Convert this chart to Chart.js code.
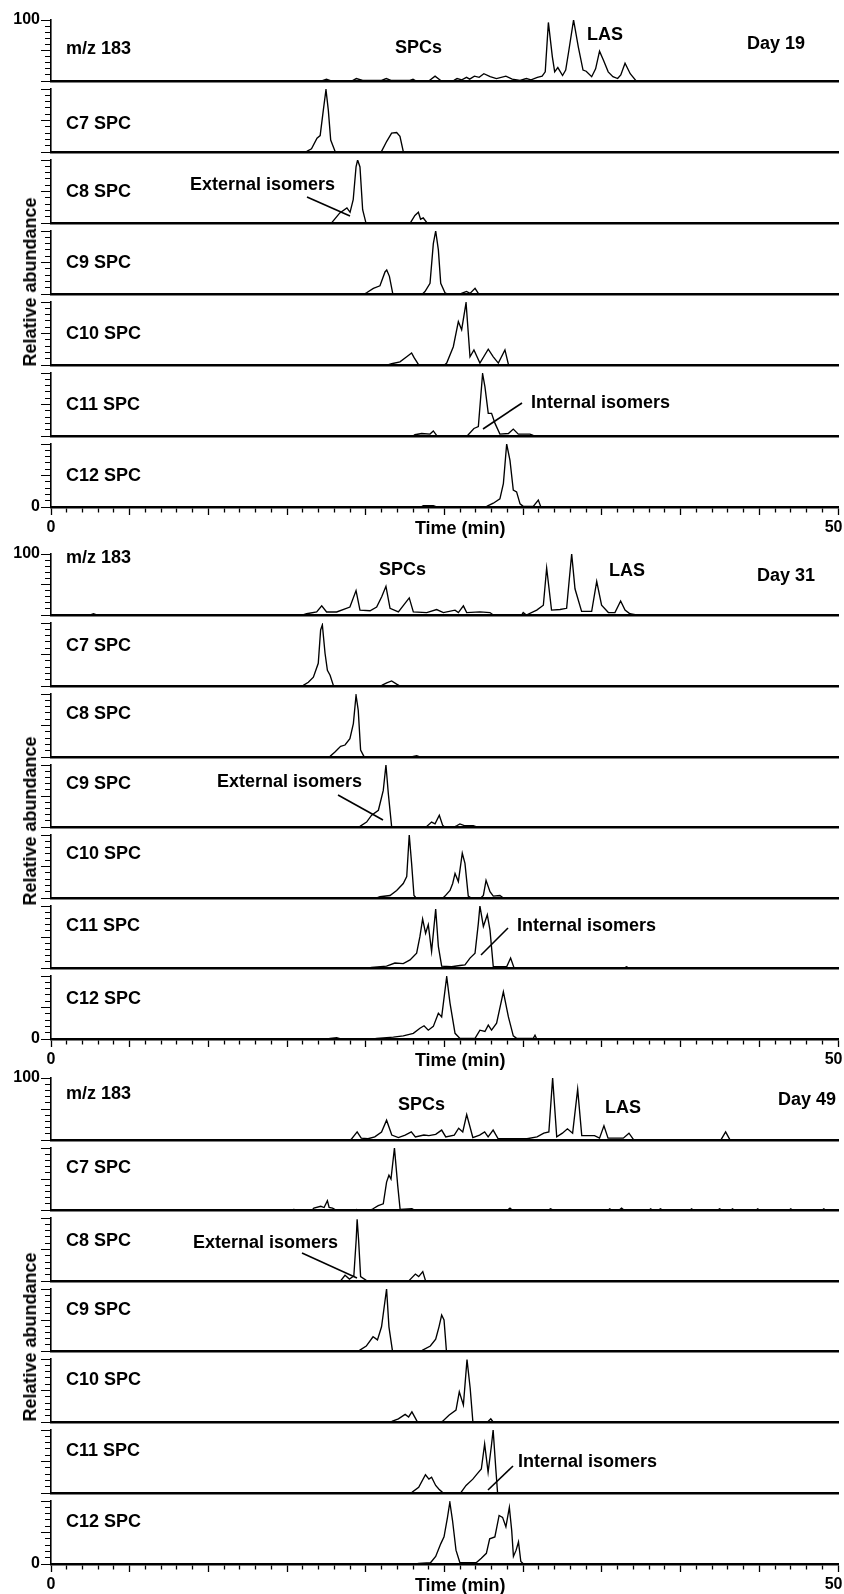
<!DOCTYPE html>
<html><head><meta charset="utf-8">
<script src="https://cdn.jsdelivr.net/npm/chart.js@4/dist/chart.umd.min.js"></script>
<style>
html,body{margin:0;padding:0;background:#fff;}
#wrap{position:relative;width:844px;height:1594px;overflow:hidden;background:#fff;}
#wrap canvas{position:absolute;left:0;}
.lbl{position:absolute;font:bold 18px "Liberation Sans",Arial,sans-serif;color:#000;white-space:nowrap;line-height:1;transform:translateY(-50%);}
.ylab{position:absolute;font:bold 18px "Liberation Sans",Arial,sans-serif;color:#000;white-space:nowrap;line-height:1;transform:translate(-50%,-50%) rotate(-90deg);}
#lines{position:absolute;left:0;top:0;}
</style></head>
<body><div id="wrap"></div>
<script>
// ---------------- DATA (time in min, relative abundance %) ----------------
const rowNames = ['m/z 183','C7 SPC','C8 SPC','C9 SPC','C10 SPC','C11 SPC','C12 SPC'];
const dayNames = ['Day 19','Day 31','Day 49'];
const xTickLabels = {0:'0', 50:'50', 26:'Time (min)'};
const yTopLabel = '100';
const yBottomLabel = '0';

const day19_mz183 = [[0,0],[17.2,0],[17.5,3],[17.8,0],[19.1,0],[19.4,4],[19.8,1],[21.0,1],[21.3,4],[21.6,1],[22.8,1],[23.0,3],[23.2,0],[24.0,0],[24.4,8],[24.8,0],[25.6,1],[25.8,4],[26.1,2],[26.4,6],[26.6,3],[26.9,8],[27.2,6],[27.5,12],[27.9,7],[28.3,4],[28.9,8],[29.3,3],[29.8,1],[30.2,4],[30.5,2],[30.9,6],[31.2,8],[31.4,15],[31.6,96],[31.85,40],[32.0,15],[32.2,22],[32.5,9],[32.7,18],[32.9,50],[33.2,100],[33.5,56],[33.8,18],[34.0,16],[34.35,7],[34.6,20],[34.85,49],[35.1,34],[35.4,15],[35.7,7],[36.0,4],[36.2,10],[36.47,29],[36.8,12],[37.15,1],[37.3,0],[50,0]];
const day19_c7 = [[0,0],[16.0,0],[16.25,1],[16.55,5],[16.9,22],[17.1,26],[17.3,66],[17.47,99],[17.62,66],[17.77,19],[18.05,1],[18.2,0],[20.8,0],[21.0,1],[21.33,17],[21.64,30],[21.96,31],[22.17,25],[22.38,1],[22.5,0],[50,0]];
const day19_c8 = [[0,0],[17.7,0],[17.85,1],[18.35,16],[18.8,24],[19.0,17],[19.2,37],[19.38,89],[19.48,100],[19.63,89],[19.8,21],[20.0,1],[20.1,0],[22.7,0],[22.85,1],[23.12,12],[23.34,17],[23.48,6],[23.65,8],[23.87,1],[24.0,0],[50,0]];
const day19_c9 = [[0,0],[19.9,0],[20.05,2],[20.48,9],[20.9,13],[21.22,35],[21.33,38],[21.5,28],[21.71,1],[21.9,0],[23.6,0],[23.76,4],[24.08,17],[24.29,80],[24.44,100],[24.61,70],[24.76,17],[25.03,2],[25.2,0],[26.0,0],[26.2,2],[26.4,4],[26.62,1],[26.94,9],[27.15,1],[27.3,0],[50,0]];
const day19_c10 = [[0,0],[21.4,0],[21.64,2],[22.17,5],[22.6,13],[22.91,19],[23.06,12],[23.34,1],[23.5,0],[25.0,0],[25.14,3],[25.56,29],[25.88,69],[26.09,56],[26.37,99],[26.62,13],[26.87,24],[27.25,3],[27.78,25],[28.1,13],[28.42,3],[28.84,24],[29.06,1],[29.2,0],[50,0]];
const day19_c11 = [[0,0],[23.0,0],[23.12,2],[23.55,4],[24.08,3],[24.29,8],[24.5,1],[24.6,0],[26.4,0],[26.51,2],[26.87,12],[27.15,15],[27.42,99],[27.57,78],[27.78,36],[27.99,36],[28.21,20],[28.52,3],[29.06,4],[29.37,11],[29.69,3],[30.43,3],[30.64,1],[30.8,0],[50,0]];
const day19_c12 = [[0,0],[23.5,0],[23.65,2],[24.29,2],[24.5,0],[27.5,0],[27.68,1],[28.1,6],[28.52,13],[28.74,37],[28.95,100],[29.16,74],[29.37,27],[29.58,24],[29.8,5],[30.0,1],[30.64,1],[30.96,11],[31.11,1],[31.3,0],[50,0]];

const day31_mz183 = [[0,0],[2.5,0],[2.7,2],[2.9,0],[16.0,0],[16.24,2],[16.88,5],[17.2,15],[17.51,5],[18.15,5],[18.99,13],[19.38,40],[19.63,8],[20.27,7],[20.69,13],[21.01,30],[21.28,47],[21.54,11],[22.07,5],[22.49,19],[22.76,28],[23.02,5],[23.87,4],[24.5,9],[24.93,4],[25.67,8],[25.88,4],[26.2,15],[26.41,4],[27.25,5],[27.89,4],[28.1,0],[29.9,0],[30.0,4],[30.2,0],[30.86,8],[31.28,16],[31.49,77],[31.8,8],[32.34,9],[32.76,11],[32.93,59],[33.08,100],[33.29,43],[33.71,6],[34.35,6],[34.67,55],[34.98,16],[35.41,4],[35.83,4],[36.19,23],[36.47,8],[36.78,2],[37.2,0],[50,0]];
const day31_c7 = [[0,0],[15.9,0],[16.03,1],[16.35,6],[16.67,14],[16.98,36],[17.13,89],[17.24,97],[17.41,52],[17.56,25],[17.73,17],[17.94,1],[18.1,0],[20.9,0],[21.01,1],[21.33,5],[21.64,8],[21.96,3],[22.17,0],[50,0]];
const day31_c8 = [[0,0],[17.6,0],[17.73,1],[18.04,8],[18.4,17],[18.68,19],[18.99,29],[19.21,53],[19.38,98],[19.52,74],[19.67,11],[19.88,1],[20.0,0],[22.9,0],[23.02,1],[23.23,2],[23.44,0],[50,0]];
const day31_c9 = [[0,0],[19.5,0],[19.63,1],[20.05,8],[20.37,19],[20.8,27],[21.11,59],[21.28,100],[21.43,54],[21.64,1],[21.8,0],[23.7,0],[23.87,1],[24.18,8],[24.4,5],[24.67,19],[24.88,3],[25.0,0],[25.6,0],[25.77,2],[25.98,5],[26.3,2],[26.83,2],[27.04,0],[50,0]];
const day31_c10 = [[0,0],[20.7,0],[20.9,2],[21.54,4],[21.96,12],[22.38,23],[22.6,34],[22.76,100],[22.91,55],[23.06,4],[23.2,0],[24.9,0],[25.03,3],[25.35,12],[25.52,23],[25.67,39],[25.88,26],[26.13,71],[26.3,55],[26.51,3],[26.7,0],[27.3,0],[27.47,4],[27.64,28],[27.89,10],[28.1,3],[28.52,4],[28.74,0],[50,0]];
const day31_c11 = [[0,0],[20.2,0],[20.37,1],[21.32,3],[21.85,8],[22.38,7],[22.81,13],[23.23,24],[23.44,51],[23.61,79],[23.8,56],[23.97,70],[24.18,27],[24.44,95],[24.61,35],[24.82,3],[25.45,2],[25.98,4],[26.3,5],[26.62,16],[26.94,24],[27.15,72],[27.25,100],[27.47,67],[27.72,86],[27.89,61],[28.1,2],[28.95,2],[29.2,16],[29.41,1],[29.6,0],[36.4,0],[36.57,2],[36.7,0],[50,0]];
const day31_c12 = [[0,0],[17.6,0],[17.73,1],[18.15,2],[18.4,0],[20.5,0],[20.69,1],[21.75,3],[22.38,5],[23.02,9],[23.44,17],[23.7,21],[23.97,14],[24.29,20],[24.61,41],[24.82,35],[25.14,99],[25.35,57],[25.67,9],[25.98,1],[26.94,1],[27.25,14],[27.57,12],[27.78,22],[27.99,14],[28.31,25],[28.74,75],[29.06,35],[29.37,5],[29.58,1],[30.64,1],[30.75,6],[30.86,0],[50,0]];

const day49_mz183 = [[0,0],[19.0,0],[19.07,1],[19.45,13],[19.71,3],[20.14,2],[20.57,5],[21.0,13],[21.32,32],[21.65,8],[22.07,4],[22.5,8],[22.89,13],[23.15,5],[23.69,8],[24.01,7],[24.44,9],[24.82,16],[25.08,5],[25.62,8],[25.9,19],[26.16,13],[26.41,41],[26.8,4],[27.23,8],[27.55,13],[27.77,5],[28.09,16],[28.41,2],[30.24,2],[30.88,5],[31.31,11],[31.63,13],[31.87,100],[32.13,5],[32.49,11],[32.81,18],[33.14,11],[33.46,82],[33.72,7],[34.53,7],[34.85,3],[35.13,23],[35.39,3],[36.36,3],[36.72,11],[37.0,1],[37.2,0],[42.4,0],[42.58,1],[42.86,13],[43.12,1],[43.3,0],[50,0]];
const day49_c7 = [[0,0],[15.3,0],[15.42,1],[15.6,0],[16.6,0],[16.7,3],[17.14,6],[17.35,4],[17.56,15],[17.67,4],[17.89,3],[18.1,0],[19.3,0],[19.39,1],[19.5,0],[20.3,0],[20.46,2],[20.79,7],[21.11,10],[21.32,45],[21.47,56],[21.6,50],[21.82,100],[22.03,39],[22.18,1],[22.93,2],[23.1,0],[29.0,0],[29.16,3],[29.3,0],[31.6,0],[31.74,2],[31.9,0],[35.4,0],[35.5,2],[35.6,0],[36.1,0],[36.25,3],[36.4,0],[38.0,0],[38.1,2],[38.2,0],[38.6,0],[38.72,2],[38.85,0],[40.6,0],[40.7,2],[40.8,0],[42.35,0],[42.48,2],[42.6,0],[43.2,0],[43.3,2],[43.4,0],[44.8,0],[44.9,2],[45.0,0],[46.9,0],[47.0,2],[47.1,0],[49.0,0],[49.1,2],[49.2,0],[50,0]];
const day49_c8 = [[0,0],[18.3,0],[18.42,1],[18.68,9],[18.96,3],[19.24,8],[19.39,66],[19.45,98],[19.54,66],[19.67,7],[20.03,1],[20.2,0],[22.6,0],[22.76,1],[23.15,11],[23.36,7],[23.62,15],[23.79,1],[23.9,0],[50,0]];
const day49_c9 = [[0,0],[19.5,0],[19.6,1],[20.03,8],[20.46,23],[20.74,18],[21.0,39],[21.32,100],[21.47,39],[21.69,1],[21.8,0],[23.45,0],[23.58,1],[24.1,8],[24.44,19],[24.65,39],[24.82,58],[24.97,50],[25.12,1],[25.3,0],[50,0]];
const day49_c10 = [[0,0],[21.5,0],[21.65,1],[22.07,5],[22.5,12],[22.72,8],[22.93,16],[23.26,1],[23.4,0],[24.75,0],[24.87,1],[25.3,11],[25.73,19],[25.94,48],[26.2,27],[26.43,99],[26.63,54],[26.8,1],[27.0,0],[27.65,0],[27.77,1],[27.94,5],[28.09,0],[50,0]];
const day49_c11 = [[0,0],[22.8,0],[22.93,1],[23.36,9],[23.79,29],[24.01,22],[24.18,25],[24.44,12],[24.65,6],[24.87,1],[25.0,0],[25.9,0],[26.05,1],[26.37,12],[26.8,22],[27.06,30],[27.34,38],[27.55,78],[27.77,33],[27.98,75],[28.09,100],[28.26,38],[28.37,1],[28.5,0],[50,0]];
const day49_c12 = [[0,0],[23.2,0],[23.36,1],[24.11,2],[24.44,12],[24.76,32],[24.97,43],[25.19,74],[25.34,98],[25.51,69],[25.73,22],[25.98,2],[27.01,2],[27.34,9],[27.66,17],[27.87,40],[28.2,43],[28.47,77],[28.69,74],[28.9,59],[29.12,90],[29.27,53],[29.38,12],[29.55,22],[29.7,35],[29.85,4],[30.02,0],[50,0]];

const day19 = [day19_mz183, day19_c7, day19_c8, day19_c9, day19_c10, day19_c11, day19_c12];
const day31 = [day31_mz183, day31_c7, day31_c8, day31_c9, day31_c10, day31_c11, day31_c12];
const day49 = [day49_mz183, day49_c7, day49_c8, day49_c9, day49_c10, day49_c11, day49_c12];
const allDays = [day19, day31, day49];

// ---------------- LAYOUT (pixels) ----------------
const FONT = '"Liberation Sans", Arial, sans-serif';
const blockLayout = [
  {top:20,   bases:[81,152,223,294,365,436,507],        labelY:[48,123,191,262,333,404,475],
   yTitle:282, day:[747,43], spcs:[395,47], las:[587,34], ext:[190,184], extLine:[307,197,350,216], int:[531,402], intLine:[522,403,483,429]},
  {top:554,  bases:[615,686,757,827,898,968,1039],      labelY:[557,645,713,783,853,925,998],
   yTitle:821, day:[757,575], spcs:[379,569], las:[609,570], ext:[217,781], extLine:[338,795,383,820], int:[517,925], intLine:[508,928,481,955]},
  {top:1078, bases:[1140,1210,1281,1351,1422,1493,1564], labelY:[1093,1167,1240,1309,1379,1450,1521],
   yTitle:1337, day:[778,1099], spcs:[398,1104], las:[605,1107], ext:[193,1242], extLine:[302,1253,357,1278], int:[518,1461], intLine:[513,1466,488,1490]}
];

const wrap = document.getElementById('wrap');
const PADT = 12;

function makeRow(series, top, base, isFirst, isLast) {
  const xH = isLast ? 34 : 0;
  const padB = isLast ? 0 : 3;
  const h = (base - top) + PADT + xH + padB;
  const cv = document.createElement('canvas');
  cv.width = 844; cv.height = h;
  cv.style.top = (top - PADT) + 'px';
  cv.style.width = '844px'; cv.style.height = h + 'px';
  wrap.appendChild(cv);
  new Chart(cv, {
    type: 'line',
    data: { datasets: [{
      data: series.map(p => ({x: p[0], y: p[1]})),
      borderColor: '#000', borderWidth: 1.35, pointRadius: 0, fill: false, tension: 0
    }]},
    options: {
      responsive: false, animation: false, events: [],
      layout: { padding: { left: 0, right: 6, top: PADT, bottom: padB } },
      plugins: { legend: { display: false }, tooltip: { enabled: false } },
      scales: {
        x: {
          type: 'linear', min: 0, max: 50, position: 'bottom',
          afterFit: s => { s.height = xH; s.paddingLeft = 0; s.paddingRight = 0; },
          border: { display: true, color: '#000', width: 2.5 },
          grid: { drawOnChartArea: false, drawTicks: isLast, tickLength: 8, tickColor: '#000', tickWidth: 1.3,
                  tickBorderDash: c => (c.tick && c.tick.value % 5 === 0) ? [] : [4, 20] },
          ticks: { display: isLast, stepSize: 1, autoSkip: false, maxRotation: 0, minRotation: 0, padding: 3, color: '#000',
                   font: c => ({ family: FONT, weight: 'bold', size: (c.tick && c.tick.value === 26) ? 18 : 16 }),
                   callback: v => v === 50 ? xTickLabels[50] + '\u2007' : (xTickLabels[v] !== undefined ? xTickLabels[v] : '') }
        },
        y: {
          type: 'linear', min: 0, max: 100, position: 'left',
          afterFit: s => { s.width = 51; s.paddingTop = 0; s.paddingBottom = 0; },
          border: { display: true, color: '#000', width: 1.6 },
          grid: { drawOnChartArea: false, drawTicks: true, tickLength: 10, tickColor: '#000', tickWidth: 1,
                  tickBorderDash: c => (c.tick && c.tick.value % 50 === 0) ? [] : [6, 4],
                  tickBorderDashOffset: c => (c.tick && c.tick.value % 50 === 0) ? 0 : 6 },
          ticks: { stepSize: 10, autoSkip: false, padding: 1, color: '#000',
                   font: { family: FONT, weight: 'bold', size: 16 },
                   callback: v => (isFirst && v === 100) ? yTopLabel : ((isLast && v === 0) ? yBottomLabel : '') }
        }
      }
    }
  });
}

function addText(txt, x, y, cls) {
  const d = document.createElement('div');
  d.className = cls || 'lbl';
  d.textContent = txt;
  d.style.left = x + 'px';
  d.style.top = y + 'px';
  wrap.appendChild(d);
}

const svgNS = 'http://www.w3.org/2000/svg';
const svg = document.createElementNS(svgNS, 'svg');
svg.setAttribute('id', 'lines');
svg.setAttribute('width', '844'); svg.setAttribute('height', '1594');
function addLine(c) {
  const l = document.createElementNS(svgNS, 'line');
  l.setAttribute('x1', c[0]); l.setAttribute('y1', c[1]);
  l.setAttribute('x2', c[2]); l.setAttribute('y2', c[3]);
  l.setAttribute('stroke', '#000'); l.setAttribute('stroke-width', '1.6');
  svg.appendChild(l);
}

allDays.forEach((rows, b) => {
  const L = blockLayout[b];
  rows.forEach((series, r) => {
    const top = r === 0 ? L.top : L.bases[r - 1] + 8;
    makeRow(series, top, L.bases[r], r === 0, r === rows.length - 1);
    addText(rowNames[r], 66, L.labelY[r]);
  });
  addText('Relative abundance', 30, L.yTitle, 'ylab');
  addText(dayNames[b], L.day[0], L.day[1]);
  addText('SPCs', L.spcs[0], L.spcs[1]);
  addText('LAS', L.las[0], L.las[1]);
  addText('External isomers', L.ext[0], L.ext[1]);
  addText('Internal isomers', L.int[0], L.int[1]);
  addLine(L.extLine);
  addLine(L.intLine);
});
wrap.appendChild(svg);
</script>
</body></html>
